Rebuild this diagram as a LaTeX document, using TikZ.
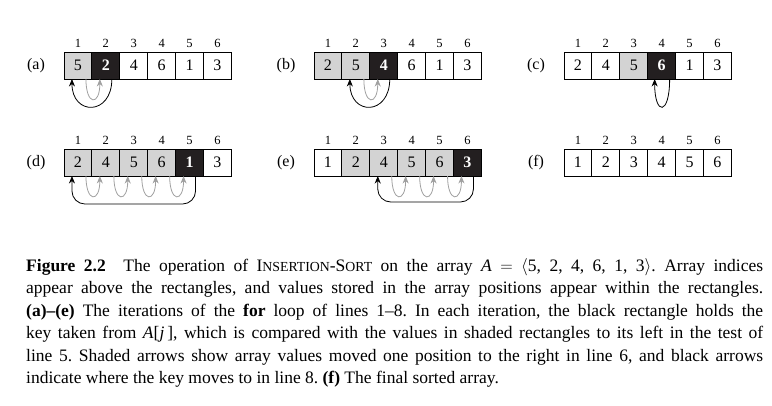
\documentclass[tikz,border=0pt]{standalone}
\usepackage{fontspec}
\setmainfont{Liberation Serif}
\usetikzlibrary{positioning,calc,arrows.meta}

\definecolor{cellgray}{RGB}{211,211,211}
\definecolor{keyblack}{RGB}{35,31,32}
\definecolor{movegray}{RGB}{160,160,160}
\newcommand{\fakesc}[1]{{\fontsize{13.8}{13.8}\selectfont #1}}

% one array: name, left x, top y, values with cell styles
\newcommand{\drawarray}[4]{%
  \node[tag] (#1) at (#2-28, #3+13.5) {(#1)};
  \foreach \v/\s [count=\i] in {#4} {
    \node[\s] (#1\i) at ({#2+27.9*(\i-0.5)}, #3+13.5) {\v};
    \node[idx] (#1i\i) at ([yshift=9pt]#1\i.north) {\i};
  }
}

\begin{document}
\begin{tikzpicture}[x=1pt, y=-1pt,
  cell/.style={draw, line width=0.9pt, minimum width=27.9pt, minimum height=27pt,
    inner sep=0pt, outer sep=0pt, font=\fontsize{16}{16}\selectfont},
  plain/.style={cell, fill=white},
  shaded/.style={cell, fill=cellgray},
  keycell/.style={cell, fill=keyblack, text=white, font=\fontsize{16}{16}\selectfont\bfseries},
  idx/.style={font=\fontsize{12.5}{12.5}\selectfont},
  tag/.style={font=\fontsize{16}{16}\selectfont},
  moved/.style={draw=movegray, line width=0.8pt, -{Stealth[length=7.5pt,width=6pt]}},
  keymove/.style={draw=black, line width=0.8pt, -{Stealth[length=7.5pt,width=6pt]}}]
  \useasboundingbox (0,0) rectangle (772,405);

  % Arrays
  \drawarray{a}{64}{52}{5/shaded, 2/keycell, 4/plain, 6/plain, 1/plain, 3/plain}
  \drawarray{b}{314}{52}{2/shaded, 5/shaded, 4/keycell, 6/plain, 1/plain, 3/plain}
  \drawarray{c}{564}{52}{2/plain, 4/plain, 5/shaded, 6/keycell, 1/plain, 3/plain}
  \drawarray{d}{64}{149}{2/shaded, 4/shaded, 5/shaded, 6/shaded, 1/keycell, 3/plain}
  \drawarray{e}{314}{149}{1/plain, 2/shaded, 4/shaded, 5/shaded, 6/shaded, 3/keycell}
  \drawarray{f}{564}{149}{1/plain, 2/plain, 3/plain, 4/plain, 5/plain, 6/plain}

  % Moves in (a)
  \draw[moved] ([xshift=8pt]a1.south) .. controls +(0,27) and +(0,27) .. ([xshift=-6pt]a2.south);
  \draw[keymove] ([xshift=6pt]a2.south) .. controls +(0,37) and +(0,37) .. ([xshift=-6pt]a1.south);

  % Moves in (b)
  \draw[moved] ([xshift=8pt]b2.south) .. controls +(0,27) and +(0,27) .. ([xshift=-6pt]b3.south);
  \draw[keymove] ([xshift=6pt]b3.south) .. controls +(0,37) and +(0,37) .. ([xshift=-6pt]b2.south);

  % Move in (c)
  \draw[keymove] ([xshift=8pt]c4.south) .. controls +(0,37) and +(0,37) .. ([xshift=-7pt]c4.south);

  % Moves in (d)
  \foreach \i/\j in {1/2, 2/3, 3/4, 4/5}
    \draw[moved] ([xshift=8pt]d\i.south) .. controls +(0,27) and +(0,27) .. ([xshift=-6pt]d\j.south);
  \draw[keymove, rounded corners=13pt] ([xshift=6pt]d5.south) -- ++(0,28) -| ([xshift=-6pt]d1.south);

  % Moves in (e)
  \foreach \i/\j in {3/4, 4/5, 5/6}
    \draw[moved] ([xshift=8pt]e\i.south) .. controls +(0,27) and +(0,27) .. ([xshift=-6pt]e\j.south);
  \draw[keymove, rounded corners=13pt] ([xshift=6pt]e6.south) -- ++(0,26) -| ([xshift=-6pt]e3.south);

  % Caption
  \node[anchor=north west, text width=737pt, align=justify, inner sep=0pt,
    font=\fontsize{17.5}{22.5}\selectfont\frenchspacing] (caption) at (26, 258) {%
    \textbf{Figure 2.2}\quad The operation of I\fakesc{NSERTION}-S\fakesc{ORT} on the array
    \textit{A} $=$ $\langle$5, 2, 4, 6, 1, 3$\rangle$. Array indices\linebreak
    appear above the rectangles, and values stored in the array positions appear within the rectangles.\linebreak
    \textbf{(a)--(e)} The iterations of the \textbf{for} loop of lines 1--8. In each iteration, the black rectangle holds the\linebreak
    key taken from \textit{A}[\textit{j}\,], which is compared with the values in shaded rectangles to its left in the test of\linebreak
    line 5. Shaded arrows show array values moved one position to the right in line 6, and black arrows\linebreak
    indicate where the key moves to in line 8. \textbf{(f)} The final sorted array.};
\end{tikzpicture}
\end{document}
